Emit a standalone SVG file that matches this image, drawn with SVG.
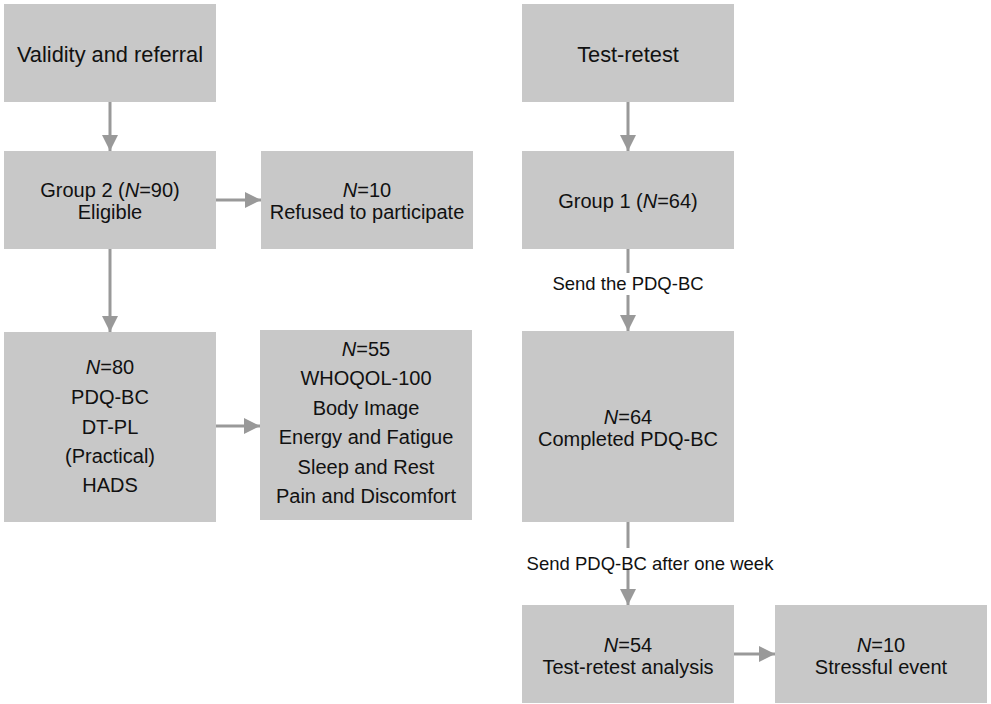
<svg xmlns="http://www.w3.org/2000/svg" width="991" height="704" viewBox="0 0 991 704">
<style>
.box{fill:#c8c8c8;}
.t{font-family:"Liberation Sans",Arial,Helvetica,sans-serif;font-size:20px;fill:#111;text-anchor:middle;}
.h{font-size:21.8px;}
.lbl{font-family:"Liberation Sans",Arial,Helvetica,sans-serif;font-size:18.5px;fill:#111;text-anchor:middle;}
.i{font-style:italic;}
.c{stroke:#999;stroke-width:3;fill:none;marker-end:url(#ah);}
</style>
<defs>
<marker id="ah" markerUnits="userSpaceOnUse" markerWidth="16" markerHeight="16" refX="16" refY="8" orient="auto">
<path d="M0,0 L16,8 L0,16 Z" fill="#999"/>
</marker>
</defs>
<rect width="991" height="704" fill="#fff"/>
<g id="connectors">
<path class="c" d="M110,102 V151"/>
<path class="c" d="M216,200 H261"/>
<path class="c" d="M110,249 V332"/>
<path class="c" d="M216,426 H260"/>
<path class="c" d="M628,102 V151"/>
<path class="c" d="M628,249 V331"/>
<path class="c" d="M628,522 V605"/>
<path class="c" d="M734,654 H775"/>
<rect x="548" y="273" width="160" height="22" fill="#fff"/>
<text class="lbl" x="628" y="289.5">Send the PDQ-BC</text>
<rect x="522" y="548" width="256" height="22" fill="#fff"/>
<text class="lbl" x="650" y="569.5">Send PDQ-BC after one week</text>
</g>
<g id="validity">
<rect class="box" x="4" y="4" width="212" height="98"/>
<text class="t h" x="110" y="61.5">Validity and referral</text>
</g>
<g id="group2">
<rect class="box" x="4" y="151" width="212" height="98"/>
<text class="t" x="110" y="197">Group 2 (<tspan class="i">N</tspan>=90)</text>
<text class="t" x="110" y="219">Eligible</text>
</g>
<g id="refused">
<rect class="box" x="261" y="151" width="212" height="98"/>
<text class="t" x="367" y="197"><tspan class="i">N</tspan>=10</text>
<text class="t" x="367" y="219">Refused to participate</text>
</g>
<g id="n80">
<rect class="box" x="4" y="332" width="212" height="190"/>
<text class="t" x="110" y="374"><tspan class="i">N</tspan>=80</text>
<text class="t" x="110" y="404">PDQ-BC</text>
<text class="t" x="110" y="434">DT-PL</text>
<text class="t" x="110" y="463">(Practical)</text>
<text class="t" x="110" y="492">HADS</text>
</g>
<g id="n55">
<rect class="box" x="260" y="330" width="212" height="190"/>
<text class="t" x="366" y="356"><tspan class="i">N</tspan>=55</text>
<text class="t" x="366" y="385">WHOQOL-100</text>
<text class="t" x="366" y="415">Body Image</text>
<text class="t" x="366" y="444">Energy and Fatigue</text>
<text class="t" x="366" y="474">Sleep and Rest</text>
<text class="t" x="366" y="503">Pain and Discomfort</text>
</g>
<g id="testretest">
<rect class="box" x="522" y="4" width="212" height="98"/>
<text class="t h" x="628" y="61.5">Test-retest</text>
</g>
<g id="group1">
<rect class="box" x="522" y="151" width="212" height="98"/>
<text class="t" x="628" y="208">Group 1 (<tspan class="i">N</tspan>=64)</text>
</g>
<g id="n64">
<rect class="box" x="522" y="331" width="212" height="191"/>
<text class="t" x="628" y="424"><tspan class="i">N</tspan>=64</text>
<text class="t" x="628" y="446">Completed PDQ-BC</text>
</g>
<g id="n54">
<rect class="box" x="522" y="605" width="212" height="98"/>
<text class="t" x="628" y="652"><tspan class="i">N</tspan>=54</text>
<text class="t" x="628" y="674">Test-retest analysis</text>
</g>
<g id="stressful">
<rect class="box" x="775" y="605" width="212" height="98"/>
<text class="t" x="881" y="652"><tspan class="i">N</tspan>=10</text>
<text class="t" x="881" y="674">Stressful event</text>
</g>
</svg>
